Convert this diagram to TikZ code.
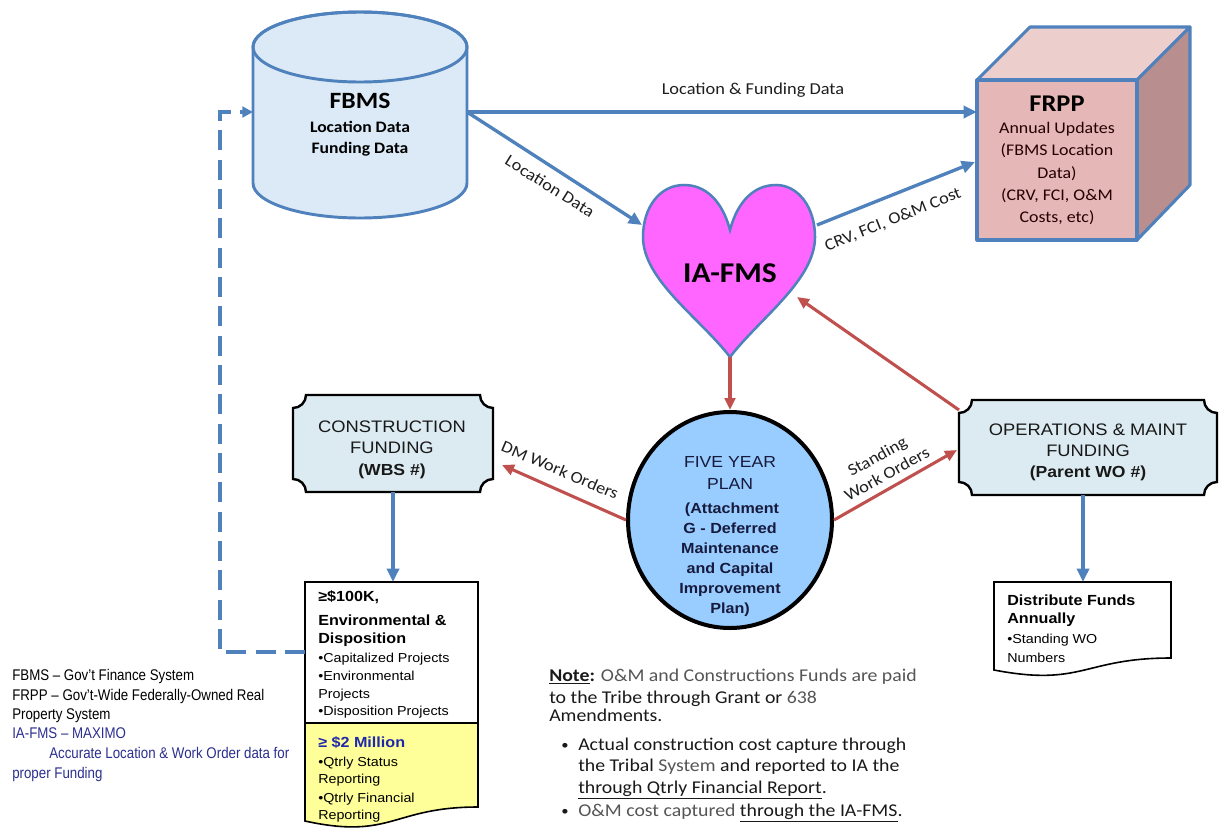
\documentclass[tikz,border=0pt]{standalone}
\usepackage{fontspec}
\setmainfont{Carlito}[FakeStretch=1.1]
\newfontfamily\arialfont{Liberation Sans}[FakeStretch=1.1]
\newfontfamily\legendfont{Liberation Sans}[FakeStretch=0.86]
\usepackage{tikz}
\usetikzlibrary{arrows.meta,shapes.geometric}
\definecolor{lineblue}{RGB}{79,129,189}
\definecolor{arrowred}{RGB}{192,80,77}
\definecolor{cylfill}{RGB}{219,234,246}
\definecolor{cubetop}{RGB}{236,206,205}
\definecolor{cubefront}{RGB}{229,184,183}
\definecolor{cubeside}{RGB}{184,143,142}
\definecolor{heartpink}{RGB}{255,102,255}
\definecolor{planblue}{RGB}{153,204,255}
\definecolor{plaquefill}{RGB}{220,235,241}
\definecolor{docyellow}{RGB}{255,255,153}
\definecolor{plannavy}{RGB}{22,26,60}
\definecolor{legnavy}{RGB}{43,47,143}
\definecolor{millionblue}{RGB}{31,40,170}
\definecolor{labeltext}{RGB}{30,30,30}
\definecolor{notegray}{RGB}{85,85,85}

\begin{document}
\begin{tikzpicture}[x=0.75pt,y=0.75pt]
\tikzstyle{every node}+=[inner sep=0pt]
\tikzstyle{blueline}=[draw=lineblue, line width=2.5pt]
\tikzstyle{bluearrow}=[blueline, -{Triangle[length=10pt,width=9pt]}]
\tikzstyle{redarrow}=[draw=arrowred, line width=2.3pt, -{Triangle[length=9pt,width=8pt]}]
\tikzstyle{lbl}=[font=\fontsize{12.5}{15}\selectfont, text=labeltext, align=center]
\tikzstyle{dbtitle}=[anchor=base, font=\bfseries\fontsize{17.5}{20}\selectfont]
\tikzstyle{dbtext}=[anchor=base, font=\bfseries\fontsize{12}{14}\selectfont]
\tikzstyle{cubetext}=[anchor=base, text=black!85!red, font=\fontsize{12.2}{14}\selectfont]
\tikzstyle{plantext}=[anchor=base, text=plannavy, font=\arialfont\fontsize{12}{14}\selectfont]
\tikzstyle{planbold}=[anchor=base, text=plannavy, font=\arialfont\bfseries\fontsize{11}{13}\selectfont]
\tikzstyle{boxtext}=[anchor=base, text=black!90, font=\arialfont\fontsize{12.5}{14}\selectfont]
\tikzstyle{boxbold}=[anchor=base, text=black!90, font=\arialfont\bfseries\fontsize{12}{14}\selectfont]
\tikzstyle{docbold}=[anchor=base west, font=\arialfont\bfseries\fontsize{11}{13}\selectfont]
\tikzstyle{docreg}=[anchor=base west, font=\arialfont\fontsize{9.75}{12}\selectfont]
\tikzstyle{legend}=[anchor=base west, font=\legendfont\fontsize{11.6}{13}\selectfont]
\tikzstyle{note}=[anchor=base west, text=black!90, font=\fontsize{13.5}{15}\selectfont]
\useasboundingbox (0,0) rectangle (1220,-832);
% FBMS cylinder
\filldraw [draw=lineblue, fill=cylfill, line width=2.2pt] (253,-47) -- (253,-183) arc (180:360:107 and 35) -- (467,-47) arc (0:180:107 and 35) -- cycle;
\draw [draw=lineblue, line width=2.2pt] (360,-47) ellipse (107 and 35);
% FRPP cube
\filldraw [draw=lineblue, fill=cubetop, line width=2.3pt, line join=round] (977,-80) -- (1030,-27) -- (1190,-27) -- (1137,-80) -- cycle;
\filldraw [draw=lineblue, fill=cubeside, line width=2.3pt, line join=round] (1137,-80) -- (1190,-27) -- (1190,-185) -- (1137,-240) -- cycle;
\filldraw [draw=lineblue, fill=cubefront, line width=2.3pt, line join=round] (977,-80) rectangle (1137,-240);
% IA-FMS heart
\filldraw [draw=lineblue, fill=heartpink, line width=1.9pt] (730,-230) .. controls (722,-200) and (705,-185) .. (684,-185) .. controls (660,-185) and (643,-207) .. (643,-237) .. controls (643,-280) and (700,-318) .. (730,-357) .. controls (760,-318) and (815,-280) .. (815,-237) .. controls (815,-207) and (798,-185) .. (776,-185) .. controls (755,-185) and (738,-200) .. (730,-230) -- cycle;
% five year plan
\node [draw=black, fill=planblue, line width=3pt, ellipse, minimum width=153pt, minimum height=162pt] (plan) at (730,-520) {};
% funding plaques
\filldraw [draw=black, fill=plaquefill, line width=1.8pt] (306,-395) -- (480,-395) arc (180:270:13) -- (493,-479) arc (90:180:13) -- (306,-492) arc (0:90:13) -- (293,-408) arc (270:360:13) -- cycle;
\filldraw [draw=black, fill=plaquefill, line width=1.8pt] (972,-400) -- (1204,-400) arc (180:270:13) -- (1217,-482) arc (90:180:13) -- (972,-495) arc (0:90:13) -- (959,-413) arc (270:360:13) -- cycle;
% documents
\filldraw [draw=black, fill=white, line width=1.2pt] (305,-582) rectangle (478,-723);
\filldraw [draw=black, fill=docyellow, line width=1.2pt] (305,-723) -- (478,-723) -- (478,-807) .. controls (392,-807) and (392,-840) .. (305,-821) -- cycle;
\filldraw [draw=black, fill=white, line width=1.2pt] (994,-582) -- (1171,-582) -- (1171,-658) .. controls (1083,-658) and (1083,-687) .. (994,-670) -- cycle;
% connector ends
\coordinate (fbmsR) at (467,-112);
\coordinate (fbmsL) at (253,-112);
\coordinate (frppA) at (977,-112);
\coordinate (frppB) at (975,-162);
\coordinate (hrtL) at (642,-225);
\coordinate (hrtR) at (817,-225);
\coordinate (hrtLR) at (797,-297);
\coordinate (hrtB) at (730,-357);
\coordinate (consA) at (502,-465);
\coordinate (consS) at (393,-492);
\coordinate (omA) at (957,-450);
\coordinate (omB) at (959,-410);
\coordinate (omS) at (1083,-495);
\coordinate (bigN) at (393,-582);
\coordinate (bigW) at (305,-652);
\coordinate (dashC) at (220,-112);
\coordinate (distN) at (1083,-582);
% connectors
\draw [bluearrow] (fbmsR) -- (frppA);
\draw [bluearrow] (fbmsR) -- (hrtL);
\draw [bluearrow] (hrtR) -- (frppB);
\draw [bluearrow] (consS) -- (bigN);
\draw [bluearrow] (omS) -- (distN);
\draw [draw=lineblue, line width=3pt, dash pattern=on 15pt off 7pt, -{Triangle[length=8pt,width=8pt]}] (bigW) -| (dashC) -- (fbmsL);
\draw [redarrow] (hrtB) -- (plan.north);
\draw [redarrow] (plan.west) -- (consA);
\draw [redarrow] (plan.east) -- (omA);
\draw [redarrow] (omB) -- (hrtLR);
% connector labels
\node [lbl] (lab1) at (753,-90) {Location \& Funding Data};
\node [lbl, rotate=-32] (lab2) at (550,-186) {Location Data};
\node [lbl, rotate=22] (lab3) at (893,-220) {CRV, FCI, O\&M Cost};
\node [lbl, rotate=-23] (lab4) at (560,-470) {DM Work Orders};
\node [lbl, rotate=29] (lab5) at (882,-465) {Standing\\Work Orders};
% shape texts
\node [dbtitle] (fbms) at (360,-108) {FBMS};
\node [dbtext] (fbms2) at (360,-132) {Location Data};
\node [dbtext] (fbms3) at (360,-153) {Funding Data};
\node [dbtitle, font=\bfseries\fontsize{18}{20}\selectfont] (frpp) at (1057,-111) {FRPP};
\node [cubetext] (frpp2) at (1057,-133) {Annual Updates};
\node [cubetext] (frpp3) at (1057,-155.5) {(FBMS Location};
\node [cubetext] (frpp4) at (1057,-178) {Data)};
\node [cubetext] (frpp5) at (1057,-200) {(CRV, FCI, O\&M};
\node [cubetext] (frpp6) at (1057,-222) {Costs, etc)};
\node [anchor=base, font=\bfseries\fontsize{21.5}{24}\selectfont] (iafms) at (730,-282) {IA-FMS};
\node [plantext] (plan1) at (730,-467) {FIVE YEAR};
\node [plantext] (plan2) at (730,-489) {PLAN};
\node [planbold] (plan3) at (732,-513) {(Attachment};
\node [planbold] (plan4) at (730,-533) {G - Deferred};
\node [planbold] (plan5) at (730,-553) {Maintenance};
\node [planbold] (plan6) at (730,-573) {and Capital};
\node [planbold] (plan7) at (730,-593) {Improvement};
\node [planbold] (plan8) at (730,-613) {Plan)};
\node [boxtext] (cons1) at (392,-432) {CONSTRUCTION};
\node [boxtext] (cons2) at (392,-453) {FUNDING};
\node [boxbold] (cons3) at (392,-475) {(WBS \#)};
\node [boxtext] (om1) at (1088,-435) {OPERATIONS \& MAINT};
\node [boxtext] (om2) at (1088,-456) {FUNDING};
\node [boxbold] (om3) at (1088,-477) {(Parent WO \#)};
\node [docbold] (dist1) at (1007,-605) {Distribute Funds};
\node [docbold] (dist2) at (1007,-623) {Annually};
\node [docreg] (dist3) at (1007,-643) {•Standing WO};
\node [docreg] (dist4) at (1007,-662) {Numbers};
\node [docbold] (big1) at (318,-601) {≥\$100K,};
\node [docbold] (big2) at (318,-625) {Environmental \&};
\node [docbold] (big3) at (318,-643) {Disposition};
\node [docreg] (big4) at (318,-662) {•Capitalized Projects};
\node [docreg] (big5) at (318,-680) {•Environmental};
\node [docreg] (big6) at (318,-698) {Projects};
\node [docreg] (big7) at (318,-715) {•Disposition Projects};
\node [docbold, text=millionblue] (big8) at (318,-747) {≥ \$2 Million};
\node [docreg] (big9) at (318,-766) {•Qtrly Status};
\node [docreg] (big10) at (318,-783) {Reporting};
\node [docreg] (big11) at (318,-802) {•Qtrly Financial};
\node [docreg] (big12) at (318,-819) {Reporting};
% legend
\node [legend] (leg1) at (12,-680) {FBMS – Gov’t Finance System};
\node [legend] (leg2) at (12,-700) {FRPP – Gov’t-Wide Federally-Owned Real};
\node [legend] (leg3) at (12,-719) {Property System};
\node [legend, text=legnavy] (leg4) at (12,-738) {IA-FMS – MAXIMO};
\node [legend, text=legnavy] (leg5) at (49,-758) {Accurate Location \& Work Order data for};
\node [legend, text=legnavy] (leg6) at (12,-778) {proper Funding};
% note
\node [note] (note1) at (549,-681) {\underline{\textbf{Note}}\textbf{:} {\color{notegray}O\&M and Constructions Funds are paid}};
\node [note] (note2) at (549,-703) {to the Tribe through Grant or {\color{notegray}638}};
\node [note] (note3) at (549,-721) {Amendments.};
\node [note, font=\fontsize{10}{12}\selectfont] (nb1) at (561,-749) {•};
\node [note] (note4) at (578,-750) {Actual construction cost capture through};
\node [note] (note5) at (578,-771) {the Tribal {\color{notegray}System} and reported to IA the};
\node [note] (note6) at (578,-793) {\underline{through Qtrly Financial Report}.};
\node [note, font=\fontsize{10}{12}\selectfont] (nb2) at (561,-815) {•};
\node [note] (note7) at (578,-816) {{\color{notegray}O\&M cost captured} \underline{through the IA-FMS}.};
\end{tikzpicture}
\end{document}
